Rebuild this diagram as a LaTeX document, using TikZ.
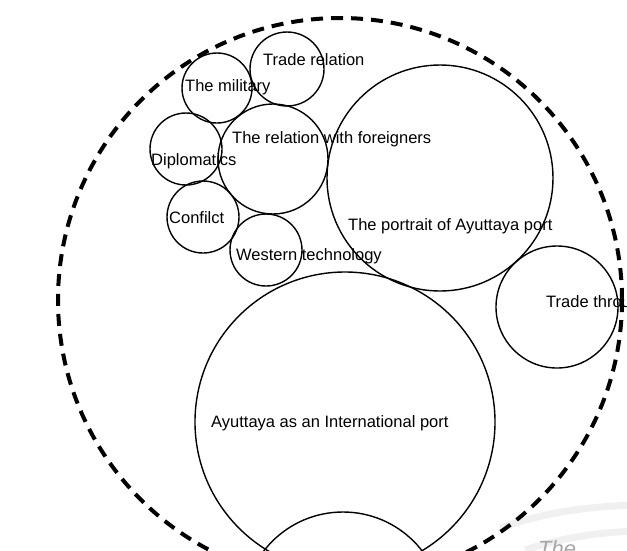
\documentclass[tikz,border=0pt]{standalone}
\usepackage{fontspec}
\setmainfont{Liberation Sans}
\usetikzlibrary{positioning}

\tikzset{
  bubble/.style={draw, circle, line width=1.4pt, inner sep=0pt},
  lbl/.style={anchor=base west, inner sep=0pt, font=\fontsize{16.5}{18}\selectfont},
}

\begin{document}
\begin{tikzpicture}[x=1pt, y=-1pt]
    \useasboundingbox (0,0) rectangle (627,550);
    \begin{scope}
        \clip (0,0) rectangle (627,550);
        % faint bands bleeding through from the next page
        \draw[gray!12, line width=7pt] (500,528) .. controls (545,512) and (590,506) .. (640,505);
        \draw[gray!12, line width=7pt] (525,550) .. controls (565,537) and (600,532) .. (640,531);
        \node (next) [anchor=base west, inner sep=0pt, text=gray!70, font=\itshape\fontsize{22}{24}\selectfont] at (538,556) {The};

        \node (ring) [circle, draw, line width=4pt, dash pattern=on 12pt off 8pt, minimum size=564pt, inner sep=0pt] at (340,300) {};

        \node (trade) [bubble, minimum size=74pt] at (287,69) {};
        \node (military) [bubble, minimum size=70pt] at (217,88) {};
        \node (diplo) [bubble, minimum size=72pt] at (186,149) {};
        \node (foreign) [bubble, minimum size=110pt] at (273,159) {};
        \node (conflict) [bubble, minimum size=72pt] at (203,217) {};
        \node (western) [bubble, minimum size=72pt] at (266,250) {};
        \node (portrait) [bubble, minimum size=226pt] at (440,178) {};
        \node (through) [bubble, minimum size=122pt] at (557,307) {};
        \node (intl) [bubble, minimum size=300pt] at (345,422) {};
        \node (base) [bubble, minimum size=200pt] at (343,612) {};

        \node (tradelbl) [lbl] at (263,65) {Trade relation};
        \node (militarylbl) [lbl] at (185,91) {The military};
        \node (foreignlbl) [lbl] at (232,143) {The relation with foreigners};
        \node (diplolbl) [lbl] at (151,165) {Diplomatics};
        \node (conflictlbl) [lbl] at (169,223) {Confilct};
        \node (westernlbl) [lbl] at (236,260) {Western technology};
        \node (portraitlbl) [lbl] at (348,230) {The portrait of Ayuttaya port};
        \node (throughlbl) [lbl] at (546,307) {Trade through};
        \node (intllbl) [lbl] at (211,427) {Ayuttaya as an International port};
    \end{scope}
\end{tikzpicture}
\end{document}
